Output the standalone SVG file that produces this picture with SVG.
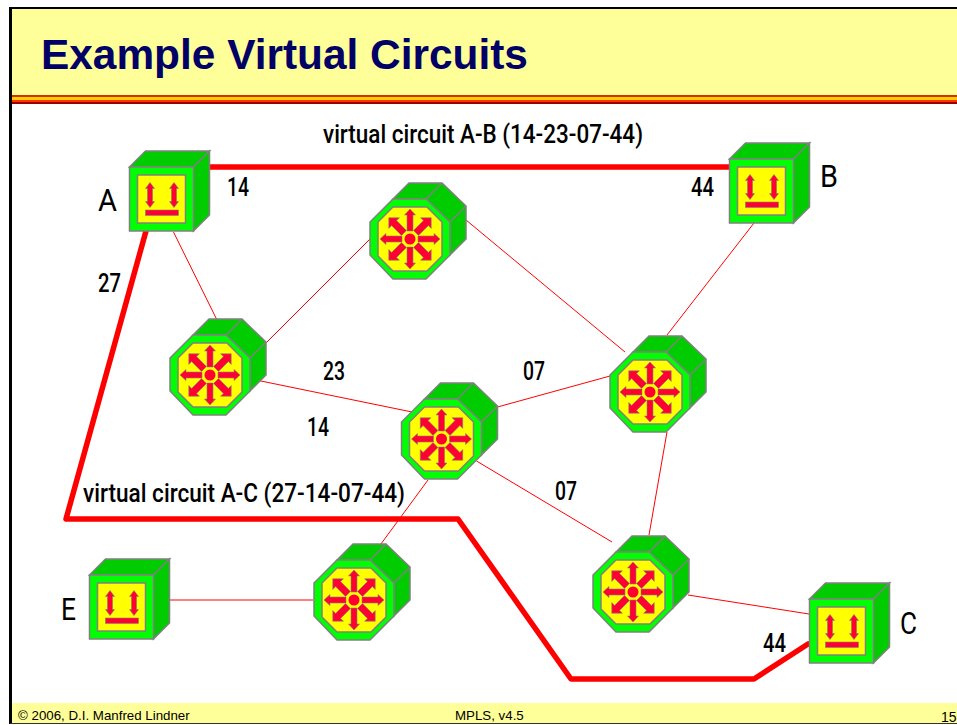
<svg xmlns="http://www.w3.org/2000/svg" width="957" height="725" viewBox="0 0 957 725">
<style>
.lbl{font-family:Roboto,"DejaVu Sans",sans-serif;font-weight:500;font-size:25px;fill:#000}
.num{font-family:Roboto,"DejaVu Sans",sans-serif;font-weight:500;font-size:25px;fill:#000}
.big{font-family:Roboto,"Open Sans",sans-serif;font-weight:400;font-size:32px;fill:#000}
.ft{font-family:"Liberation Sans",Arial,sans-serif;font-size:13.3px;fill:#000}
.thin{stroke:#ff0000;stroke-width:1;fill:none}
.thick{stroke:#ff0000;stroke-width:5.5;fill:none;stroke-linejoin:round;stroke-linecap:round}
.o{stroke:#808080;stroke-width:1.5;stroke-linejoin:miter}
.a{fill:#ff0033;stroke:#808080;stroke-width:0.6}
</style>
<defs>
<g id="box">
<path class="o" fill="#00cc00" d="M-32 -32L-16 -48H48L32 -32Z"/>
<path class="o" fill="#00cc00" d="M32 -32L48 -48V16L32 32Z"/>
<rect class="o" fill="#00ff00" x="-32" y="-32" width="64" height="64"/>
<rect class="o" fill="#ffff00" x="-24" y="-24" width="48" height="48"/>
<path class="a" d="M-11.500 -16.500L-7 -10.500H-9V2.500H-7L-11.500 8.500L-16 2.500H-14V-10.500H-16Z"/>
<path class="a" d="M12.500 -16.500L17 -10.500H15V2.500H17L12.500 8.500L8 2.500H10V-10.500H8Z"/>
<rect class="a" x="-16" y="11" width="33" height="5.500"/>
</g>
<path id="ar" class="a" d="M0 -30L5.500 -24H3V-8H-3V-24H-5.500Z"/>
<path id="ad" class="a" d="M0 -30L7.500 -22.500H3.500V-8.500H-3.500V-22.500H-7.500Z"/>
<g id="rt">
<path class="o" fill="#00cc00" d="M-17 -40L-1 -56H32L56 -33V0L40 16V-17L16 -40Z"/>
<path class="o" fill="none" d="M16 -40L32 -56M40 -17L56 -33"/>
<path class="o" fill="#00ff00" d="M-17 -40H16L40 -17V16L16 40H-17L-40 16V-17Z"/>
<path class="o" fill="#ffff00" d="M-17 -32H17L32 -17V17L17 32H-17L-32 17V-17Z"/>
<circle fill="#ff0033" r="5.500"/>
<use href="#ar"/><use href="#ad" transform="rotate(45)"/><use href="#ar" transform="rotate(90)"/><use href="#ad" transform="rotate(135)"/><use href="#ar" transform="rotate(180)"/><use href="#ad" transform="rotate(225)"/><use href="#ar" transform="rotate(270)"/><use href="#ad" transform="rotate(315)"/>
</g>
</defs>
<rect width="957" height="725" fill="#fff"/>
<g id="frame">
<rect x="11" y="8" width="946" height="87" fill="#ffff99"/>
<rect x="10" y="95" width="947" height="2" fill="#cc3300"/>
<rect x="10" y="97" width="947" height="3" fill="#ffcc00"/>
<rect x="10" y="100" width="947" height="2" fill="#ff3300"/>
<rect x="10" y="102" width="947" height="2" fill="#990000"/>
<rect x="9" y="7" width="948" height="2" fill="#000"/>
<rect x="9" y="7" width="3" height="717" fill="#000"/>
<rect x="12" y="703" width="945" height="20" fill="#ffff99"/>
<rect x="10" y="723" width="947" height="1" fill="#333"/>
</g>
<text x="41" y="68.500" font-family="Liberation Sans,Arial,sans-serif" font-weight="bold" font-size="42.400" fill="#000066">Example Virtual Circuits</text>
<g id="connectors">
<path class="thin" d="M173.500 232L217 320M266 343L371 238M466 220L625 352M754 223L667 335M256 380L412 412M497.500 407L610 376M476.500 461L612 542M667 432L649 535M428 480L378 548M169 600H313M688 595L809 614"/>
<path class="thick" d="M193 167H729"/>
<path class="thick" d="M146 231L66 519H458L571 679H754L808 644"/>
</g>
<g id="A"><use href="#box" x="161.500" y="199"/></g>
<g id="B"><use href="#box" x="761.500" y="191"/></g>
<g id="C"><use href="#box" x="841.500" y="631"/></g>
<g id="E"><use href="#box" x="121.500" y="607"/></g>
<g id="R1"><use href="#rt" x="410" y="239"/></g>
<g id="R2"><use href="#rt" x="210" y="375"/></g>
<g id="R3"><use href="#rt" x="441.500" y="439"/></g>
<g id="R4"><use href="#rt" x="650" y="392"/></g>
<g id="R5"><use href="#rt" x="633" y="592"/></g>
<g id="R6"><use href="#rt" x="354" y="600"/></g>
<text class="lbl" x="323" y="143" textLength="320" lengthAdjust="spacingAndGlyphs">virtual circuit A-B (14-23-07-44)</text>
<text class="lbl" x="83" y="502" textLength="322" lengthAdjust="spacingAndGlyphs">virtual circuit A-C (27-14-07-44)</text>
<text class="num" x="227" y="196" textLength="22" lengthAdjust="spacingAndGlyphs">14</text>
<text class="num" x="691" y="196" textLength="23" lengthAdjust="spacingAndGlyphs">44</text>
<text class="num" x="98" y="292" textLength="23" lengthAdjust="spacingAndGlyphs">27</text>
<text class="num" x="323" y="380" textLength="22" lengthAdjust="spacingAndGlyphs">23</text>
<text class="num" x="523" y="380" textLength="22" lengthAdjust="spacingAndGlyphs">07</text>
<text class="num" x="307" y="436" textLength="22" lengthAdjust="spacingAndGlyphs">14</text>
<text class="num" x="555" y="500" textLength="22" lengthAdjust="spacingAndGlyphs">07</text>
<text class="num" x="763" y="652" textLength="23" lengthAdjust="spacingAndGlyphs">44</text>
<text class="big" x="98" y="211" textLength="19" lengthAdjust="spacingAndGlyphs">A</text>
<text class="big" x="820" y="187" textLength="18" lengthAdjust="spacingAndGlyphs">B</text>
<text class="big" x="900" y="634" textLength="17" lengthAdjust="spacingAndGlyphs">C</text>
<text class="big" x="61" y="620" textLength="15" lengthAdjust="spacingAndGlyphs">E</text>
<g id="footer">
<text class="ft" x="18" y="720">© 2006, D.I. Manfred Lindner</text>
<text class="ft" x="455" y="720">MPLS, v4.5</text>
<text x="941" y="722" font-family="Liberation Sans,Arial,sans-serif" font-size="14" fill="#000">15</text>
</g>
</svg>
